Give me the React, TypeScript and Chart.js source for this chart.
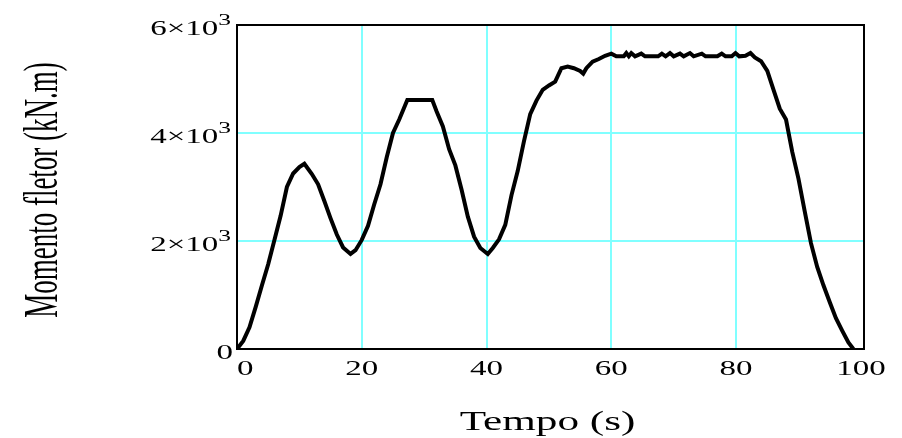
import { useEffect, useRef } from "react";
import { Chart, registerables } from "chart.js";

Chart.register(...registerables);

// ---- data ----
const times = [
  0, 1, 2, 3, 4, 5, 6, 7, 8, 9, 10, 10.8, 12, 13, 14, 15, 16, 17, 18.2, 19,
  20, 21, 22, 23, 24, 25, 26, 27.3, 31.3, 32, 33, 34, 35, 36, 37, 38, 39, 40.2,
  41, 42, 43, 44, 45, 46, 47, 48, 49, 50, 51, 52, 53, 54, 55, 55.5, 56, 57, 58,
  59, 60, 60.8, 62, 62.4, 62.8, 63.2, 63.8, 64.8, 65.4, 67.5, 68.1, 68.7, 69.4,
  70, 71, 71.6, 72.6, 73.2, 74.5, 75.1, 77, 77.7, 78.3, 79.3, 79.9, 80.5, 81.5,
  82.3, 83, 84, 85, 86, 87, 88, 89, 90, 91, 92, 93, 94, 95, 96, 97, 98, 98.8,
];
const moments = [
  0, 150, 400, 780, 1180, 1570, 2020, 2470, 3000, 3250, 3370, 3430, 3240, 3050,
  2740, 2420, 2120, 1880, 1760, 1830, 2020, 2280, 2680, 3050, 3550, 4000, 4250,
  4610, 4610, 4400, 4120, 3700, 3400, 2950, 2450, 2080, 1870, 1760, 1870, 2030,
  2300, 2850, 3300, 3850, 4350, 4600, 4800, 4880, 4950, 5200, 5230, 5200, 5150,
  5100, 5200, 5320, 5370, 5430, 5470, 5420, 5420, 5480, 5420, 5480, 5420, 5470,
  5420, 5420, 5470, 5420, 5480, 5420, 5470, 5420, 5480, 5420, 5470, 5420, 5420,
  5470, 5420, 5420, 5480, 5420, 5430, 5480, 5400, 5330, 5150, 4800, 4450, 4250,
  3650, 3150, 2550, 1960, 1520, 1180, 870, 570, 340, 120, 0,
];

const xTickValues = [0, 20, 40, 60, 80, 100];
const xTickLabels = ["0", "20", "40", "60", "80", "100"];
const yTickValues = [0, 2000, 4000, 6000];
const yTickLabels = ["0", "2×10³", "4×10³", "6×10³"];
const xTitle = "Tempo (s)";
const yTitle = "Momento fletor (kN.m)";

const SERIF = '"Liberation Serif", "Times New Roman", serif';

function textPlugin() {
  return {
    id: "mathcadText",
    afterDraw(chart: any) {
      const ctx: CanvasRenderingContext2D = chart.ctx;
      const xs = chart.scales.x;
      const ys = chart.scales.y;
      const area = chart.chartArea;

      // frame
      ctx.save();
      ctx.strokeStyle = "#000";
      ctx.lineWidth = 2;
      ctx.strokeRect(area.left, area.top, area.right - area.left, area.bottom - area.top);
      ctx.restore();

      ctx.save();
      ctx.fillStyle = "#000";
      const tickSize = 22;
      const supSize = 17;
      const tickSx = 1.5;

      // y tick labels
      yTickValues.forEach((v, i) => {
        const label = yTickLabels[i];
        const py = ys.getPixelForValue(v) + 9.5;
        const hasSup = label.endsWith("³");
        const main = hasSup ? label.slice(0, -1) : label;
        ctx.font = `${tickSize}px ${SERIF}`;
        const w1 = ctx.measureText(main).width;
        ctx.font = `${supSize}px ${SERIF}`;
        const w2 = hasSup ? ctx.measureText("3").width : 0;
        const total = (w1 + w2) * tickSx;
        const right = hasSup ? 231 : 233;
        ctx.save();
        ctx.translate(right - total, py);
        ctx.scale(tickSx, 1);
        ctx.textAlign = "left";
        ctx.textBaseline = "alphabetic";
        ctx.font = `${tickSize}px ${SERIF}`;
        ctx.fillText(main, 0, 0);
        if (hasSup) {
          ctx.font = `${supSize}px ${SERIF}`;
          ctx.fillText("3", w1, -10);
        }
        ctx.restore();
      });

      // x tick labels
      xTickValues.forEach((v, i) => {
        const label = xTickLabels[i];
        const px = xs.getPixelForValue(v);
        ctx.font = `${tickSize}px ${SERIF}`;
        const w = ctx.measureText(label).width * tickSx;
        const left = i === 0 ? px : px - w / 2;
        ctx.save();
        ctx.translate(left, 375);
        ctx.scale(tickSx, 1);
        ctx.textAlign = "left";
        ctx.textBaseline = "alphabetic";
        ctx.fillText(label, 0, 0);
        ctx.restore();
      });

      // x title
      ctx.save();
      ctx.font = `27px ${SERIF}`;
      ctx.translate((area.left + area.right) / 2 - 3, 430);
      ctx.scale(1.6, 1);
      ctx.textAlign = "center";
      ctx.textBaseline = "alphabetic";
      ctx.fillText(xTitle, 0, 0);
      ctx.restore();

      // y title
      ctx.save();
      ctx.font = `27px ${SERIF}`;
      ctx.translate(57, (area.top + area.bottom) / 2 + 3);
      ctx.scale(1.8, 1);
      ctx.rotate(-Math.PI / 2);
      ctx.textAlign = "center";
      ctx.textBaseline = "alphabetic";
      ctx.fillText(yTitle, 0, 0);
      ctx.restore();

      ctx.restore();
    },
  };
}

export default function App() {
  const canvasRef = useRef<HTMLCanvasElement | null>(null);

  useEffect(() => {
    document.body.style.margin = "0";
    const canvas = canvasRef.current;
    if (!canvas) return;
    const gridColor = (c: any) => {
      const v = c.tick ? c.tick.value : 0;
      return v === 0 || v === 100 || v === 6000 ? "rgba(0,0,0,0)" : "#80ffff";
    };
    const chart = new Chart(canvas, {
      type: "line",
      data: {
        datasets: [
          {
            data: times.map((t, i) => ({ x: t, y: moments[i] })),
            borderColor: "#000",
            borderWidth: 4,
            pointRadius: 0,
            tension: 0,
            fill: false,
          },
        ],
      },
      options: {
        responsive: false,
        animation: false,
        events: [],
        layout: { padding: { left: 0, right: 38, top: 25, bottom: 0 } },
        plugins: {
          legend: { display: false },
          tooltip: { enabled: false },
          title: { display: false },
        },
        scales: {
          x: {
            type: "linear",
            min: 0,
            max: 100.5,
            ticks: { stepSize: 20, display: false },
            grid: { color: gridColor, lineWidth: 2, drawTicks: false },
            border: { display: false },
            afterFit: (s: any) => {
              s.height = 89;
            },
          },
          y: {
            type: "linear",
            min: 0,
            max: 6000,
            ticks: { stepSize: 2000, display: false },
            grid: { color: gridColor, lineWidth: 2, drawTicks: false },
            border: { display: false },
            afterFit: (s: any) => {
              s.width = 237;
            },
          },
        },
      },
      plugins: [textPlugin()],
    } as any);
    return () => chart.destroy();
  }, []);

  return (
    <div style={{ position: "absolute", left: 0, top: 0, width: 902, height: 438 }}>
      <canvas ref={canvasRef} width={902} height={438} style={{ display: "block" }} />
    </div>
  );
}
